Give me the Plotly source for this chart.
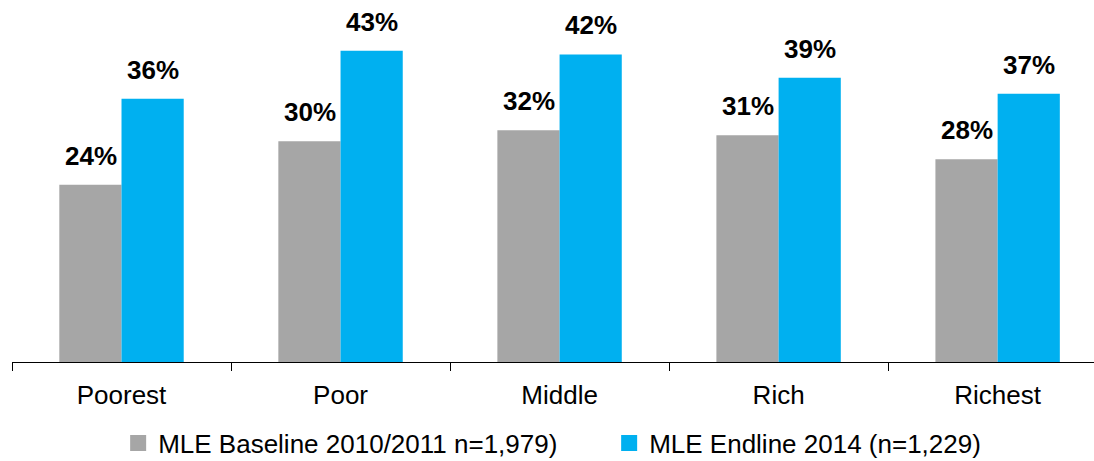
import plotly.graph_objects as go

categories = ["Poorest", "Poor", "Middle", "Rich", "Richest"]
baseline = [24.3, 30.3, 31.8, 31.1, 27.8]
endline = [36.1, 42.7, 42.2, 39.0, 36.8]
series_names = ["MLE Baseline 2010/2011 n=1,979)", "MLE Endline 2014 (n=1,229)"]
colors = ["#A6A6A6", "#00B0F0"]

FONT = "Arial, Liberation Sans, sans-serif"

fig = go.Figure()
for name, vals, col in zip(series_names, [baseline, endline], colors):
    fig.add_trace(go.Bar(x=categories, y=vals, name=name, marker_color=col,
                         marker_line_width=0, showlegend=False))
    # legend proxy with larger square marker
    fig.add_trace(go.Scatter(x=[None], y=[None], mode="markers", name=name,
                             marker=dict(symbol="square", size=17, color=col)))

annotations = []
for vals, shift in [(baseline, -31), (endline, 31)]:
    for c, v in zip(categories, vals):
        annotations.append(dict(x=c, y=v, text=f"{round(v)}%", showarrow=False,
                                xshift=shift, yshift=12, yanchor="bottom",
                                font=dict(family=FONT, size=26, color="black",
                                          weight="bold")))

fig.update_layout(
    width=1094, height=461,
    margin=dict(l=12, r=0, t=0, b=99, autoexpand=False),
    plot_bgcolor="white", paper_bgcolor="white",
    barmode="group", bargap=0.432, bargroupgap=0,
    font=dict(family=FONT, size=26, color="black"),
    annotations=annotations,
    legend=dict(orientation="h", x=0.108, xanchor="left", xref="container",
                y=-0.224, yanchor="middle", font=dict(size=26),
                itemwidth=30, entrywidth=446, traceorder="normal"),
    xaxis=dict(type="category", range=[-0.5, 4.44], showline=True,
               linecolor="black", linewidth=1.3, ticks="outside",
               tickson="boundaries", ticklen=8, tickcolor="black",
               tickwidth=1.3, showgrid=False, tickfont=dict(size=26),
               ticklabelstandoff=10, automargin=False),
    yaxis=dict(range=[0, 49.66], visible=False, showgrid=False),
)

fig.write_html("out.html")
